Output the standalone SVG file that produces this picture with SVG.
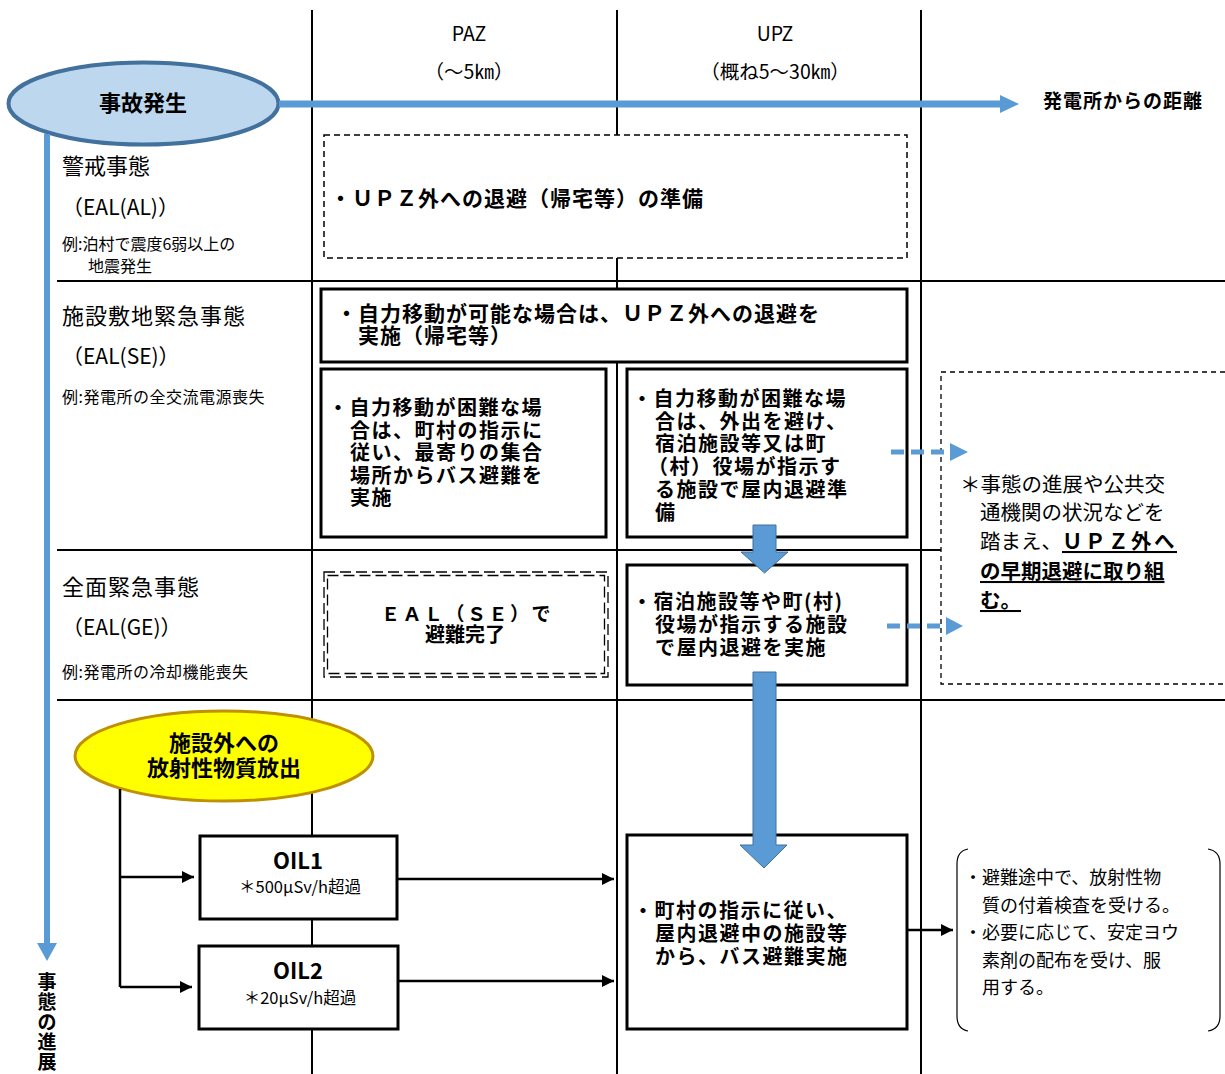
<svg xmlns="http://www.w3.org/2000/svg" width="1225" height="1074" viewBox="0 0 1225 1074">
<style>
text{font-family:"Noto Sans CJK JP","Noto Sans",sans-serif;fill:#000}
.b{font-weight:700}
.grid{stroke:#000;stroke-width:2;fill:none}
.box{fill:#fff;stroke:#000;stroke-width:3}
.lab{font-size:22px}
.eal{font-size:21px}
.ex{font-size:16px}
.hd{font-size:19.5px}
.bt{font-size:20px;font-weight:700;letter-spacing:1.5px}
.bw{font-size:21px;font-weight:700;letter-spacing:1px}
.nt{font-size:18px}
.rn{font-size:20.5px}
.blue{fill:#5B9BD5}
.bdash{stroke:#5B9BD5;stroke-width:5;stroke-dasharray:13 7;fill:none}
.blk{stroke:#000;stroke-width:2.5;fill:none}
.barrow{fill:#5B9BD5;stroke:#41719C;stroke-width:1}
</style>
<defs>
<marker id="ah" markerUnits="userSpaceOnUse" markerWidth="13" markerHeight="13" refX="12" refY="6" orient="auto"><path d="M0,0 L12,6 L0,12 z" fill="#000"/></marker>
</defs>
<rect width="1225" height="1074" fill="#fff"/>
<g id="grid">
<line class="grid" x1="312" y1="10" x2="312" y2="1074"/>
<line class="grid" x1="617" y1="10" x2="617" y2="1074"/>
<line class="grid" x1="921" y1="10" x2="921" y2="1074"/>
<line class="grid" x1="57" y1="281" x2="1225" y2="281"/>
<line class="grid" x1="57" y1="550" x2="941" y2="550"/>
<line class="grid" x1="57" y1="700" x2="1225" y2="700"/>
</g>
<g id="header">
<text class="hd" x="469" y="41" text-anchor="middle">PAZ</text>
<text class="hd" x="469" y="79" text-anchor="middle">（～5㎞）</text>
<text class="hd" x="775" y="41" text-anchor="middle">UPZ</text>
<text class="hd" x="775" y="79" text-anchor="middle">（概ね5～30㎞）</text>
<text class="b" x="1043" y="108" font-size="19" letter-spacing="1">発電所からの距離</text>
</g>
<g id="row-labels">
<text class="lab" x="62" y="174">警戒事態</text>
<text class="eal" x="62" y="215">（EAL(AL)）</text>
<text class="ex" x="62" y="250">例:泊村で震度6弱以上の</text>
<text class="ex" x="88" y="272">地震発生</text>
<text class="lab" x="62" y="324" letter-spacing="1">施設敷地緊急事態</text>
<text class="eal" x="62" y="364">（EAL(SE)）</text>
<text class="ex" x="62" y="403" letter-spacing="0.5">例:発電所の全交流電源喪失</text>
<text class="lab" x="62" y="595" letter-spacing="1">全面緊急事態</text>
<text class="eal" x="62" y="635">（EAL(GE)）</text>
<text class="ex" x="62" y="678" letter-spacing="0.5">例:発電所の冷却機能喪失</text>
</g>
<g id="accident">
<ellipse cx="143.5" cy="103.5" rx="135" ry="41" fill="#BDD7EE" stroke="#41719C" stroke-width="4"/>
<text class="b" x="143" y="111" font-size="22" text-anchor="middle">事故発生</text>
</g>
<g id="al-box">
<rect x="324" y="135" width="583" height="123" fill="#fff" stroke="#000" stroke-width="1.5" stroke-dasharray="6 4"/>
<text class="bw" x="330" y="206">・ＵＰＺ外への退避（帰宅等）の準備</text>
</g>
<g id="se-wide">
<rect class="box" x="321" y="289" width="586" height="73"/>
<text class="bw" x="336" y="321">・自力移動が可能な場合は、ＵＰＺ外への退避を</text>
<text class="bw" x="358" y="343">実施（帰宅等）</text>
</g>
<g id="se-paz">
<rect class="box" x="321" y="369" width="285" height="168"/>
<text class="bt" x="328" y="415">・自力移動が困難な場</text>
<text class="bt" x="350" y="437.5">合は、町村の指示に</text>
<text class="bt" x="350" y="460">従い、最寄りの集合</text>
<text class="bt" x="350" y="482.5">場所からバス避難を</text>
<text class="bt" x="350" y="505">実施</text>
</g>
<g id="se-upz">
<rect class="box" x="627" y="369" width="280" height="168"/>
<text class="bt" x="632" y="406">・自力移動が困難な場</text>
<text class="bt" x="655" y="428.5">合は、外出を避け、</text>
<text class="bt" x="655" y="451">宿泊施設等又は町</text>
<text class="bt" x="648" y="474">（村）役場が指示す</text>
<text class="bt" x="655" y="497">る施設で屋内退避準</text>
<text class="bt" x="655" y="520">備</text>
</g>
<g id="ge-paz">
<rect x="324" y="572" width="284" height="105" fill="#fff" stroke="#000" stroke-width="1.3" stroke-dasharray="11 5"/>
<rect x="327.5" y="575.5" width="277" height="98" fill="none" stroke="#000" stroke-width="1.3" stroke-dasharray="11 5"/>
<text class="b" x="467" y="621" font-size="19" letter-spacing="2.5" text-anchor="middle">ＥＡＬ（ＳＥ）で</text>
<text class="b" x="465" y="642" font-size="20" text-anchor="middle">避難完了</text>
</g>
<g id="ge-upz">
<rect class="box" x="627" y="565" width="280" height="120"/>
<text class="bt" x="632" y="609">・宿泊施設等や町(村)</text>
<text class="bt" x="655" y="632">役場が指示する施設</text>
<text class="bt" x="655" y="655">で屋内退避を実施</text>
</g>
<g id="note-box">
<rect x="941" y="372" width="300" height="312" fill="none" stroke="#000" stroke-width="1.3" stroke-dasharray="5 4"/>
<text class="rn" x="960" y="492">＊事態の進展や公共交</text>
<text class="rn" x="980" y="520">通機関の状況などを</text>
<text class="rn" x="980" y="549">踏まえ、<tspan class="b" letter-spacing="2.5" text-decoration="underline">ＵＰＺ外へ</tspan></text>
<text class="rn b" x="980" y="579" text-decoration="underline">の早期退避に取り組</text>
<text class="rn b" x="980" y="608" text-decoration="underline">む。</text>
</g>
<g id="release">
<ellipse cx="224" cy="756" rx="149" ry="45" fill="#FFFF00" stroke="#BF9000" stroke-width="3"/>
<text class="b" x="224" y="751" font-size="22" text-anchor="middle">施設外への</text>
<text class="b" x="224" y="776" font-size="22" text-anchor="middle">放射性物質放出</text>
</g>
<g id="oil1">
<rect class="box" x="200" y="836" width="197" height="83"/>
<text class="b" x="298" y="869" font-size="22" text-anchor="middle">OIL1</text>
<text x="300" y="893" font-size="16.5" text-anchor="middle">＊500μSv/h超過</text>
</g>
<g id="oil2">
<rect class="box" x="199" y="946" width="199" height="83"/>
<text class="b" x="298" y="979" font-size="22" text-anchor="middle">OIL2</text>
<text x="300" y="1004" font-size="16.5" text-anchor="middle">＊20μSv/h超過</text>
</g>
<g id="bus-box">
<rect class="box" x="627" y="835" width="280" height="194"/>
<text class="bt" x="633" y="918">・町村の指示に従い、</text>
<text class="bt" x="655" y="941">屋内退避中の施設等</text>
<text class="bt" x="655" y="964">から、バス避難実施</text>
</g>
<g id="note2">
<path d="M968,849 Q957,851 957,864 L957,1016 Q957,1029 968,1031" fill="none" stroke="#000" stroke-width="1.2"/>
<path d="M1208,849 Q1220,851 1220,864 L1220,1016 Q1220,1029 1208,1031" fill="none" stroke="#000" stroke-width="1.2"/>
<text class="nt" x="964" y="884">・避難途中で、放射性物</text>
<text class="nt" x="982" y="912">質の付着検査を受ける。</text>
<text class="nt" x="964" y="939">・必要に応じて、安定ヨウ</text>
<text class="nt" x="982" y="967">素剤の配布を受け、服</text>
<text class="nt" x="982" y="994">用する。</text>
</g>
<g id="progress-label">
<text class="b" x="47" y="989" font-size="19" text-anchor="middle">事</text>
<text class="b" x="47" y="1009" font-size="19" text-anchor="middle">態</text>
<text class="b" x="47" y="1029" font-size="19" text-anchor="middle">の</text>
<text class="b" x="47" y="1049" font-size="19" text-anchor="middle">進</text>
<text class="b" x="47" y="1069" font-size="19" text-anchor="middle">展</text>
</g>
<g id="connectors">
<rect class="blue" x="44" y="134" width="6" height="811"/>
<polygon class="blue" points="37,943 57,943 47,961"/>
<rect class="blue" x="279" y="100.5" width="723" height="7"/>
<polygon class="blue" points="1000,95 1000,113 1019,104"/>
<line class="bdash" x1="891" y1="452" x2="950" y2="452"/>
<polygon class="blue" points="950,443 950,461 968,452"/>
<line class="bdash" x1="887" y1="626" x2="946" y2="626"/>
<polygon class="blue" points="946,617 946,635 963,626"/>
<polygon class="barrow" points="753,525 776,525 776,552 788,552 764.5,573 741,552 753,552"/>
<polygon class="barrow" points="753,672 776,672 776,845 787,845 764,868 740,845 753,845"/>
<polyline class="blk" points="120,789 120,987"/>
<line class="blk" x1="120" y1="877" x2="194" y2="877" marker-end="url(#ah)"/>
<line class="blk" x1="120" y1="987" x2="192" y2="987" marker-end="url(#ah)"/>
<line class="blk" x1="398" y1="879" x2="614" y2="879" marker-end="url(#ah)"/>
<line class="blk" x1="398" y1="981" x2="614" y2="981" marker-end="url(#ah)"/>
<line class="blk" x1="907" y1="930" x2="953" y2="930" marker-end="url(#ah)"/>
</g>
</svg>
